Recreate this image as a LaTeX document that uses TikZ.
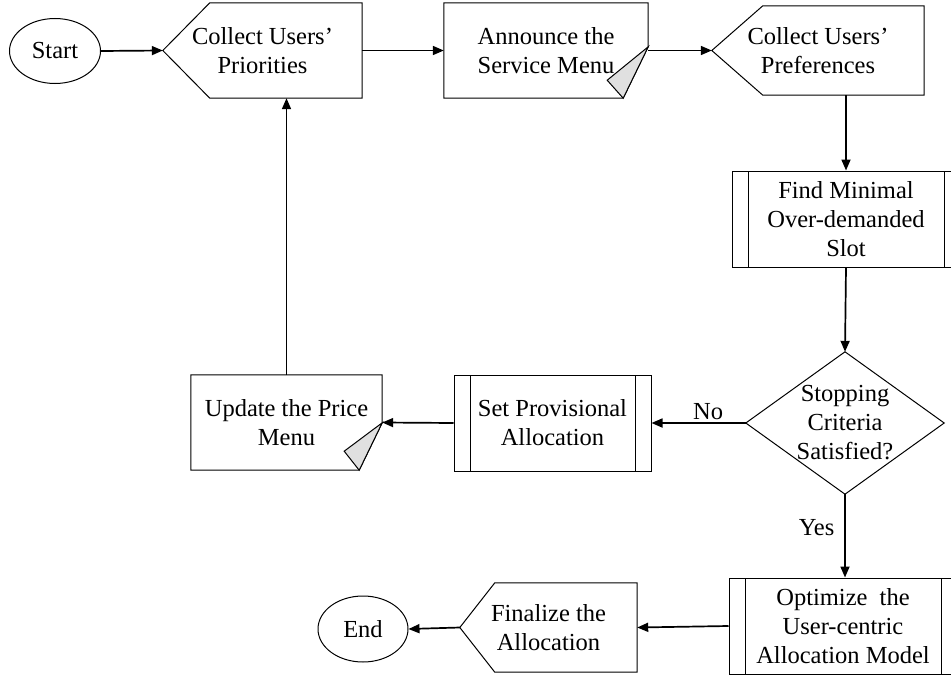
\documentclass[tikz,border=0pt]{standalone}
\usepackage{fontspec}
\setmainfont{Liberation Serif}
\usetikzlibrary{shapes.geometric,arrows.meta,calc}

\definecolor{flapgray}{rgb}{0.88, 0.88, 0.88}

\tikzset{
	txt/.style={inner sep=0.75pt, align=center, font=\fontsize{24.5}{29}\selectfont},
	terminal/.style={txt, draw, line width=1pt, ellipse, minimum width=91pt, minimum height=65pt},
	procbox/.style={txt, draw, line width=1pt, minimum width=#1, minimum height=96pt,
		path picture={
			\draw[line width=1pt] ([xshift=16pt]path picture bounding box.north west) -- ([xshift=16pt]path picture bounding box.south west);
			\draw[line width=1pt] ([xshift=-16pt]path picture bounding box.north east) -- ([xshift=-16pt]path picture bounding box.south east);
		}},
	shp/.style={line width=1pt},
	flow/.style={line width=1.7pt, -{Triangle[length=11pt,width=9pt]}},
}

\begin{document}
\begin{tikzpicture}[x=1pt,y=1pt,yscale=-1,xscale=1]
		\useasboundingbox (0,0) rectangle (951,677); % Set diagram size to 951 x 677

		% Start and End ellipses
		\node[terminal] (start) at (55,51) {Start};
		\node[terminal, minimum width=90pt, minimum height=66pt] (end) at (363,629) {End};

		% Text nodes of the display shapes (pointed on the left)
		\node[txt, minimum width=199pt, minimum height=95pt] (prio) at (262.5,50.5) {Collect Users’\\Priorities};
		\node[txt, minimum width=212pt, minimum height=89pt] (pref) at (818,50.5) {Collect Users’\\Preferences};
		\node[txt, minimum width=177pt, minimum height=89pt] (final) at (548.5,627.5) {Finalize the\\Allocation};

		% Draw the display shapes
		\draw[shp] (prio.west) -- ($(prio.north west)+(47,0)$) -- (prio.north east) -- (prio.south east) -- ($(prio.south west)+(47,0)$) -- cycle;
		\draw[shp] (pref.west) -- ($(pref.north west)+(51,0)$) -- (pref.north east) -- (pref.south east) -- ($(pref.south west)+(51,0)$) -- cycle;
		\draw[shp] (final.west) -- ($(final.north west)+(35,0)$) -- (final.north east) -- (final.south east) -- ($(final.south west)+(35,0)$) -- cycle;

		% Text nodes of the menus (folded corner at the bottom right)
		\node[txt, minimum width=204pt, minimum height=95pt] (announce) at (546,50.5) {Announce the\\Service Menu};
		\node[txt, minimum width=191pt, minimum height=95pt] (update) at (286.5,422.5) {Update the Price\\Menu};

		% Draw the menus and their grey flaps
		\draw[shp] (announce.north west) -- (announce.north east) -- ($(announce.north east)+(0,44)$) -- ($(announce.south east)+(-25,0)$) -- (announce.south west) -- cycle;
		\filldraw[shp, fill=flapgray] ($(announce.north east)+(0,44)$) -- ($(announce.south east)+(-41,-18)$) -- ($(announce.south east)+(-25,0)$) -- cycle;
		\draw[shp] (update.north west) -- (update.north east) -- ($(update.north east)+(0,48)$) -- ($(update.south east)+(-23,0)$) -- (update.south west) -- cycle;
		\filldraw[shp, fill=flapgray] ($(update.north east)+(0,48)$) -- ($(update.south east)+(-38,-19)$) -- ($(update.south east)+(-23,0)$) -- cycle;

		% Predefined processes
		\node[procbox=228pt] (find) at (846,219) {Find Minimal\\Over-demanded\\Slot};
		\node[procbox=197pt] (setprov) at (552.5,423) {Set Provisional\\Allocation};
		\node[procbox=228pt] (optim) at (843,626) {Optimize~ the\\User-centric\\Allocation Model};

		% Decision diamond
		\node[txt, minimum width=198pt, minimum height=142pt] (stop) at (845,423) {Stopping\\Criteria\\Satisfied?};
		\draw[shp] (stop.north) -- (stop.east) -- (stop.south) -- (stop.west) -- cycle;

		% Arrows of the main loop
		\draw[flow] (start.east) -- (prio.west);
		\draw[flow] (prio.east) -- (announce.west);
		\draw[flow] (announce.east) -- (pref.west);
		\draw[flow] (pref.south -| find.north) -- (find.north);
		\draw[flow] (find.south) -- (stop.north);
		\draw[flow] (stop.west) -- node[txt, above, pos=0.4, inner sep=2pt] {No} (setprov.east);
		\draw[flow] (setprov.west) -- (update.east);
		\draw[flow] (update.north) -- (update.north |- prio.south);

		% Arrows to the end
		\draw[flow] (stop.south) -- node[txt, left=9pt, pos=0.4] {Yes} (stop.south |- optim.north);
		\draw[flow] (optim.west) -- (final.east);
		\draw[flow] (final.west) -- (end.east);
	\end{tikzpicture}
\end{document}
